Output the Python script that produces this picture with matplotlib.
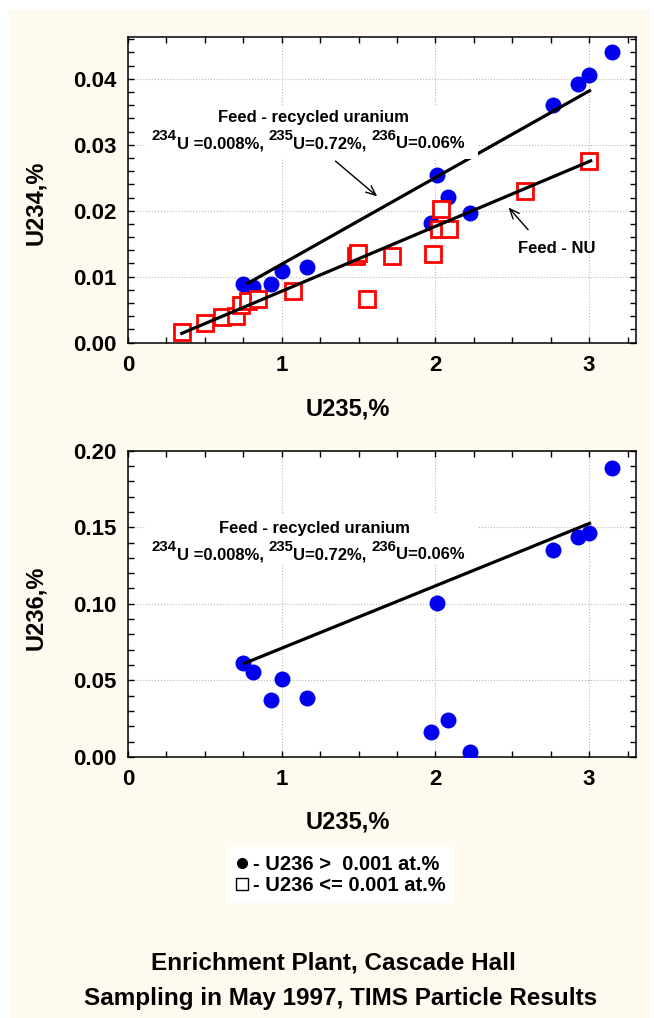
import numpy as np
import matplotlib
matplotlib.use("Agg")
import matplotlib.pyplot as plt
from matplotlib.patches import Rectangle
from matplotlib.lines import Line2D
from matplotlib.ticker import MultipleLocator, FormatStrFormatter

plt.rcParams["font.family"] = ["Liberation Sans", "DejaVu Sans"]
plt.rcParams["font.weight"] = "bold"

# particles with U236 > 0.001 at.% (blue circles)
u235_rec = [3.151, 2.999, 2.926, 2.765, 2.010, 2.080, 2.227, 1.969, 1.165, 1.004, 0.932, 0.746, 0.811]
u234_rec = [0.0441, 0.0406, 0.0392, 0.0360, 0.0254, 0.0221, 0.0196, 0.0182, 0.0115, 0.0109, 0.0089, 0.0089, 0.0085]
u236_rec = [0.1888, 0.1465, 0.1439, 0.1352, 0.1003, 0.0241, 0.0033, 0.0160, 0.0386, 0.0510, 0.0371, 0.0611, 0.0552]

# particles with U236 <= 0.001 at.% (red squares)
u235_nu = [0.353, 0.503, 0.614, 0.703, 0.733, 0.783, 0.844, 1.072, 1.486, 1.494,
           1.720, 1.557, 1.984, 2.034, 2.021, 2.087, 2.581, 3.001]
u234_nu = [0.00156, 0.00293, 0.00393, 0.00404, 0.00571, 0.00636, 0.00666, 0.00778, 0.01319, 0.01355,
           0.01314, 0.00666, 0.01344, 0.02032, 0.01724, 0.01724, 0.02296, 0.02756]
u234_nu_err = [0.0001, 0.0001, 0.0001, 0.0001, 0.0001, 0.0001, 0.0001, 0.0001, 0.0001, 0.0003,
               0.0001, 0.0001, 0.0001, 0.0002, 0.0001, 0.0002, 0.0002, 0.0005]

# trend lines
fit_rec_x = [0.78, 3.003]
fit_rec_234 = [0.0090, 0.0382]
fit_nu_x = [0.35, 3.01]
fit_nu_234 = [0.0014, 0.02756]
fit_rec_236_x = [0.758, 3.003]
fit_rec_236 = [0.0611, 0.1526]

note1 = "Feed - recycled uranium"
# (text, is superscript)
note2 = [("234", True), ("U =0.008%, ", False), ("235", True), ("U=0.72%, ", False),
         ("236", True), ("U=0.06%", False)]

W, H = 654, 1018
fig = plt.figure(figsize=(W / 100, H / 100), dpi=100, facecolor="white")
fig.patches.append(Rectangle((9 / W, 0), (650 - 9) / W, 1 - 10 / H, transform=fig.transFigure,
                             facecolor="#fffaf0", edgecolor="none", zorder=-10))

ax1 = fig.add_axes([128 / W, 1 - 342.6 / H, 508 / W, 305.3 / H])
ax2 = fig.add_axes([128 / W, 1 - 756.8 / H, 508 / W, 306 / H])


def style(ax, ymax, ymajor, yminor, ylabel, xlab_y, ylab_y):
    ax.set_facecolor("white")
    ax.set_xlim(0, 3.305)
    ax.set_ylim(0, ymax)
    ax.xaxis.set_major_locator(MultipleLocator(1))
    ax.xaxis.set_minor_locator(MultipleLocator(0.25))
    ax.yaxis.set_major_locator(MultipleLocator(ymajor))
    ax.yaxis.set_minor_locator(MultipleLocator(yminor))
    ax.xaxis.set_major_formatter(FormatStrFormatter("%d"))
    ax.yaxis.set_major_formatter(FormatStrFormatter("%.2f"))
    ax.tick_params(which="both", direction="in", top=True, right=True, length=4, width=1)
    ax.tick_params(axis="x", pad=9, labelsize=16)
    ax.tick_params(axis="y", pad=8, labelsize=16)
    for lab in ax.get_xticklabels() + ax.get_yticklabels():
        lab.set_fontweight("bold")
    for s in ax.spines.values():
        s.set_linewidth(1.1)
    ax.grid(True, which="major", linestyle=":", color="#b8b8b8", linewidth=0.8)
    ax.set_axisbelow(True)
    ax.set_xlabel("U235,%", fontsize=17, fontweight="bold")
    ax.set_ylabel(ylabel, fontsize=17, fontweight="bold")
    ax.xaxis.set_label_coords(0.433, xlab_y)
    ax.yaxis.set_label_coords(-0.16, ylab_y)


def isotope_line(ax, x0, y0, size=12, sup_size=10.8, rise=5.7):
    # chain the pieces so that the superscripts can be larger than mathtext allows
    base = ax.text(x0, y0, "U", fontsize=size, va="baseline", alpha=0)
    prev, fx = base, 0
    for s, sup in note2:
        t = ax.annotate(s, xy=(fx, 0), xycoords=(prev, base),
                        xytext=(0, rise if sup else 0), textcoords="offset points",
                        ha="left", va="bottom", fontsize=sup_size if sup else size,
                        fontweight="bold", zorder=7)
        prev, fx = t, 1


def note_box(ax, x0, y0, x1, y1):
    ax.add_patch(Rectangle((x0, y0), x1 - x0, y1 - y0, transform=ax.transAxes,
                           facecolor="white", edgecolor="none", zorder=5.5))


arrow = dict(arrowstyle="->,head_length=0.7,head_width=0.3", color="black", lw=1)

# top panel: U234 vs U235
style(ax1, 0.0463, 0.01, 0.002, "U234,%", -0.18, 0.457)
ax1.plot(u235_rec, u234_rec, "o", color="#0000ee", markersize=11.5, markeredgewidth=0, zorder=3)
ax1.errorbar(u235_nu, u234_nu, yerr=u234_nu_err, fmt="s", color="red", markersize=12,
             markerfacecolor="white", markeredgecolor="red", markeredgewidth=2,
             ecolor="red", elinewidth=1, capsize=1.5, zorder=4)
ax1.plot(fit_rec_x, fit_rec_234, color="black", linewidth=2.3, zorder=5)
ax1.plot(fit_nu_x, fit_nu_234, color="black", linewidth=2.3, zorder=5)
note_box(ax1, 0.035, 0.601, 0.689, 0.778)
ax1.text(1.204, 0.0341, note1, ha="center", va="center", fontsize=12, fontweight="bold", zorder=7)
isotope_line(ax1, 0.154, 0.02948)
ax1.annotate("", xy=(1.635, 0.0219), xytext=(1.336, 0.0278), arrowprops=arrow, zorder=6)
ax1.text(2.789, 0.0143, "Feed - NU", ha="center", va="center", fontsize=12, fontweight="bold", zorder=6)
ax1.annotate("", xy=(2.464, 0.0208), xytext=(2.615, 0.0168), arrowprops=arrow, zorder=6)

# bottom panel: U236 vs U235
style(ax2, 0.20, 0.05, 0.01, "U236,%", -0.174, 0.486)
ax2.plot(u235_rec, u236_rec, "o", color="#0000ee", markersize=11.5, markeredgewidth=0, zorder=3)
ax2.plot(fit_rec_236_x, fit_rec_236, color="black", linewidth=2.3, zorder=5)
note_box(ax2, 0.035, 0.634, 0.689, 0.79)
ax2.text(1.211, 0.1493, note1, ha="center", va="center", fontsize=12, fontweight="bold", zorder=7)
isotope_line(ax2, 0.154, 0.1291)

# legend
handles = [
    Line2D([], [], linestyle="none", marker="o", color="black", markersize=7),
    Line2D([], [], linestyle="none", marker="s", markerfacecolor="white",
           markeredgecolor="black", markeredgewidth=1, markersize=8),
]
labels = ["- U236 >  0.001 at.%", "- U236 <= 0.001 at.%"]
fig.legend(handles, labels, loc="center", bbox_to_anchor=(340 / W, 1 - 875 / H),
           frameon=True, fancybox=False, edgecolor="none", facecolor="white", framealpha=1,
           handlelength=0.7, handletextpad=0.2, labelspacing=0.1, borderpad=0.4,
           prop=dict(size=14.5, weight="bold"))

fig.text(333 / W, 1 - 963 / H, "Enrichment Plant, Cascade Hall", ha="center", va="center",
         fontsize=17.5, fontweight="bold")
fig.text(341 / W, 1 - 999 / H, "Sampling in May 1997, TIMS Particle Results", ha="center", va="center",
         fontsize=17.5, fontweight="bold")

fig.savefig("out.png", dpi=100, facecolor=fig.get_facecolor())
